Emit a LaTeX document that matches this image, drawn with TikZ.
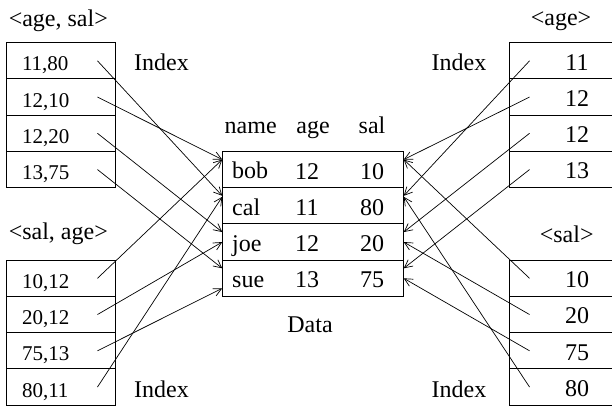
\documentclass[tikz,border=0pt]{standalone}
\usepackage{fontspec}
\setmainfont{Liberation Serif}
\usetikzlibrary{arrows.meta}
\newcommand{\lblsize}{\fontsize{24}{28}\selectfont}
\newcommand{\cellsize}{\fontsize{21}{25}\selectfont}
\tikzset{
  idxcell/.style={draw, line width=0.9pt, minimum height=36.25pt, inner ysep=0pt,
    text depth=0pt},
  leftcell/.style={idxcell, font=\cellsize, text width=77pt, inner xsep=16pt,
    align=left, text height=20pt},
  rightcell/.style={idxcell, font=\lblsize, minimum width=135pt, text height=18.5pt},
  datarow/.style={idxcell, font=\lblsize, text width=161.6pt, inner xsep=9.5pt,
    align=left, text height=18.5pt},
  txt/.style={font=\lblsize, inner sep=0pt, anchor=base},
  ptr/.style={-{Straight Barb[length=8pt,width=8pt]}, line width=0.7pt}
}

\begin{document}
\begin{tikzpicture}[x=1pt,y=-1pt]
    \clip (0,0) rectangle (612,405);
    % index on <age, sal>
    \node[txt] (agesal) at (58.3,26) {<age, sal>};
    \node[leftcell] (as1) at (60.5,60.8) {11,80};
    \node[leftcell] (as2) at (60.5,97.05) {12,10};
    \node[leftcell] (as3) at (60.5,133.3) {12,20};
    \node[leftcell] (as4) at (60.5,169.55) {13,75};
    \node[txt] (idxtl) at (161.5,70.7) {Index};
    % index on <sal, age>
    \node[txt] (salage) at (58.3,239.5) {<sal, age>};
    \node[leftcell] (sa1) at (60.5,278.3) {10,12};
    \node[leftcell] (sa2) at (60.5,314.55) {20,12};
    \node[leftcell] (sa3) at (60.5,350.8) {75,13};
    \node[leftcell] (sa4) at (60.5,387.05) {80,11};
    \node[txt] (idxbl) at (161.5,397) {Index};
    % index on <age>
    \node[txt] (agekey) at (561,25) {<age>};
    \node[rightcell] (a1) at (577,60.8) {11};
    \node[rightcell] (a2) at (577,97.05) {12};
    \node[rightcell] (a3) at (577,133.3) {12};
    \node[rightcell] (a4) at (577,169.55) {13};
    \node[txt] (idxtr) at (459,70.7) {Index};
    % index on <sal>
    \node[txt] (salkey) at (566.7,242) {<sal>};
    \node[rightcell] (s1) at (577,278.3) {10};
    \node[rightcell] (s2) at (577,314.55) {20};
    \node[rightcell] (s3) at (577,350.8) {75};
    \node[rightcell] (s4) at (577,387.05) {80};
    \node[txt] (idxbr) at (459,397) {Index};
    % data
    \node[txt] (hname) at (250.7,133.3) {name};
    \node[txt] (hage) at (313,133.3) {age};
    \node[txt] (hsal) at (372,133.3) {sal};
    \node[datarow] (bob) at (313,169.55) {bob};
    \node[datarow] (cal) at (313,205.8) {cal};
    \node[datarow] (joe) at (313,242.05) {joe};
    \node[datarow] (sue) at (313,278.3) {sue};
    \node[txt] (bobage) at (307,179) {12};
    \node[txt] (bobsal) at (372,179) {10};
    \node[txt] (calage) at (307,215.3) {11};
    \node[txt] (calsal) at (372,215.3) {80};
    \node[txt] (joeage) at (307,251.5) {12};
    \node[txt] (joesal) at (372,251.5) {20};
    \node[txt] (sueage) at (307,287.8) {13};
    \node[txt] (suesal) at (372,287.8) {75};
    \node[txt] (datalbl) at (310,332.3) {Data};
    % pointers from the left
    \draw[ptr] ([xshift=-18pt]as1.east) -- ([yshift=10pt]cal.west);
    \draw[ptr] ([xshift=-18pt]as2.east) -- ([yshift=10pt]bob.west);
    \draw[ptr] ([xshift=-18pt]as3.east) -- ([yshift=10pt]joe.west);
    \draw[ptr] ([xshift=-18pt]as4.east) -- ([yshift=10pt]sue.west);
    \draw[ptr] ([xshift=-18pt]sa1.east) -- ([yshift=10pt]bob.west);
    \draw[ptr] ([xshift=-18pt]sa2.east) -- (joe.west);
    \draw[ptr] ([xshift=-18pt]sa3.east) -- ([yshift=-10pt]sue.west);
    \draw[ptr] ([xshift=-18pt]sa4.east) -- ([yshift=9pt]cal.west);
    % pointers from the right
    \draw[ptr] ([xshift=20.5pt]a1.west) -- ([yshift=10pt]cal.east);
    \draw[ptr] ([xshift=20.5pt]a2.west) -- ([yshift=10pt]bob.east);
    \draw[ptr] ([xshift=20.5pt]a3.west) -- ([yshift=10pt]joe.east);
    \draw[ptr] ([xshift=20.5pt]a4.west) -- ([yshift=10pt]sue.east);
    \draw[ptr] ([xshift=20.5pt]s1.west) -- ([yshift=10pt]bob.east);
    \draw[ptr] ([xshift=20.5pt]s2.west) -- (joe.east);
    \draw[ptr] ([xshift=20.5pt]s3.west) -- (sue.east);
    \draw[ptr] ([xshift=20.5pt]s4.west) -- ([yshift=9pt]cal.east);
  \end{tikzpicture}
\end{document}
